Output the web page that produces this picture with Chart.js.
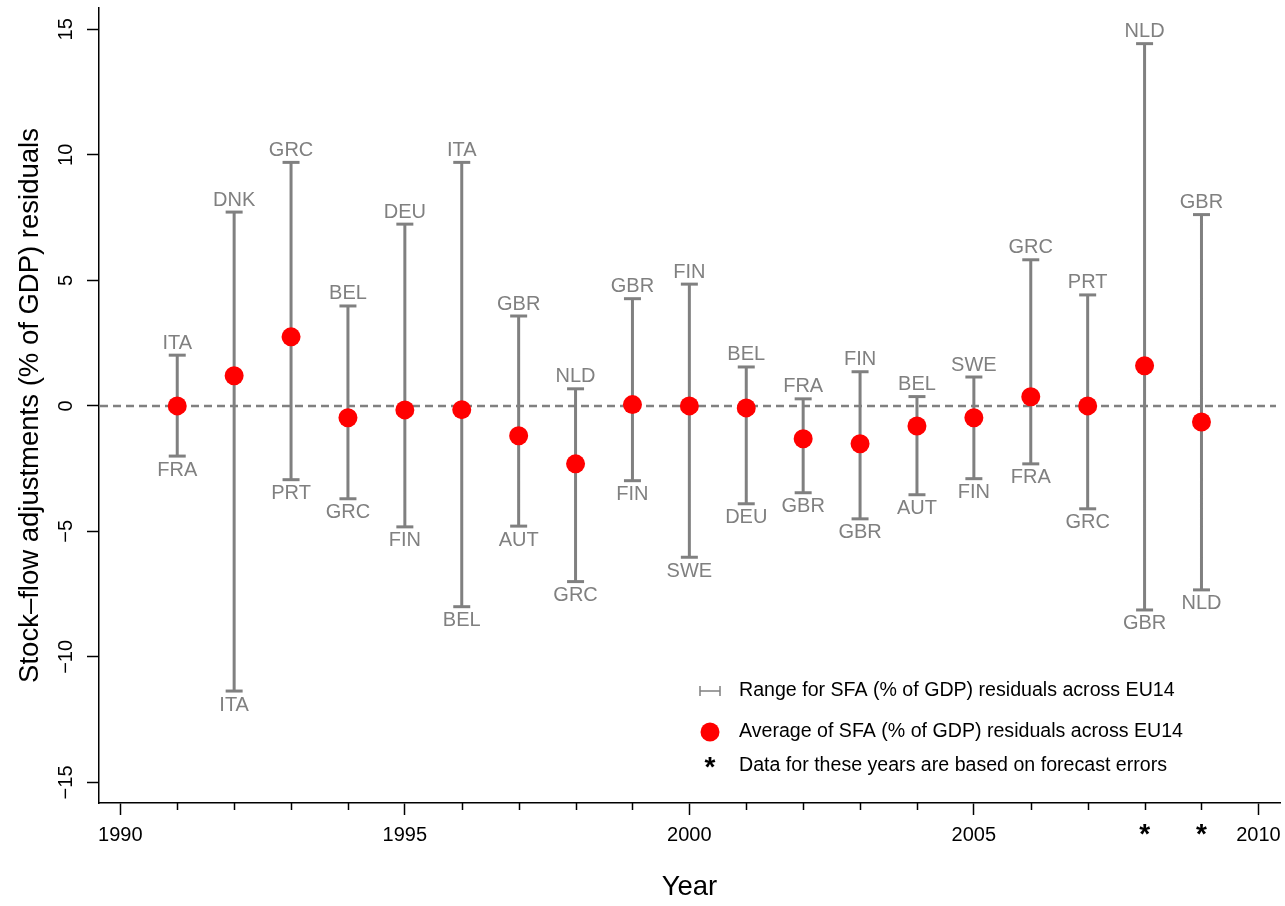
<!DOCTYPE html>
<html>
<head>
<meta charset="utf-8">
<script src="https://cdn.jsdelivr.net/npm/chart.js@4.4.1/dist/chart.umd.min.js"></script>
<style>
  html, body { margin: 0; padding: 0; background: #fff; }
  canvas { display: block; }
</style>
</head>
<body>
<canvas id="chart-sfa" width="1285" height="906"></canvas>
<script>
// data
var years = [1991, 1992, 1993, 1994, 1995, 1996, 1997, 1998, 1999, 2000,
             2001, 2002, 2003, 2004, 2005, 2006, 2007, 2008, 2009];
var averages = [0.0, 1.2, 2.75, -0.47, -0.16, -0.15, -1.19, -2.31, 0.05, 0.0,
                -0.08, -1.31, -1.51, -0.8, -0.47, 0.36, 0.0, 1.6, -0.64];
var highs = [2.02, 7.72, 9.7, 3.98, 7.24, 9.7, 3.58, 0.68, 4.27, 4.85,
             1.55, 0.28, 1.36, 0.37, 1.15, 5.82, 4.42, 14.43, 7.62];
var highCountries = ['ITA', 'DNK', 'GRC', 'BEL', 'DEU', 'ITA', 'GBR', 'NLD', 'GBR', 'FIN',
                     'BEL', 'FRA', 'FIN', 'BEL', 'SWE', 'GRC', 'PRT', 'NLD', 'GBR'];
var lows = [-2.0, -11.36, -2.94, -3.7, -4.82, -8.0, -4.79, -7.0, -2.98, -6.03,
            -3.9, -3.46, -4.5, -3.54, -2.9, -2.31, -4.1, -8.13, -7.33];
var lowCountries = ['FRA', 'ITA', 'PRT', 'GRC', 'FIN', 'BEL', 'AUT', 'GRC', 'FIN', 'SWE',
                    'DEU', 'GBR', 'GBR', 'AUT', 'FIN', 'FRA', 'GRC', 'GBR', 'NLD'];
var forecastYears = [2008, 2009];
var yTicks = [-15, -10, -5, 0, 5, 10, 15];
var legendLabels = [
    'Range for SFA (% of GDP) residuals across EU14',
    'Average of SFA (% of GDP) residuals across EU14',
    'Data for these years are based on forecast errors'
];

var FONT = '"Liberation Sans", Arial, Helvetica, sans-serif';
var GREY = '#808080';
var RED = '#ff0000';

// build the datasets
var rangePts = [];
var capPts = [];
var avgPts = [];
for (let i = 0; i < years.length; i++) {
    rangePts.push({x: years[i], y: lows[i]});
    rangePts.push({x: years[i], y: highs[i]});
    rangePts.push({x: years[i], y: null});
    capPts.push({x: years[i], y: lows[i]});
    capPts.push({x: years[i], y: highs[i]});
    avgPts.push({x: years[i], y: averages[i]});
}

var extras = {
    id: 'extras',
    beforeDatasetsDraw: function (chart) {
        var ctx = chart.ctx, a = chart.chartArea;
        var y0 = chart.scales.y.getPixelForValue(0);
        ctx.save();
        ctx.strokeStyle = GREY;
        ctx.lineWidth = 2.5;
        ctx.setLineDash([8, 5]);
        ctx.beginPath();
        ctx.moveTo(a.left + 1, y0);
        ctx.lineTo(a.right - 4, y0);
        ctx.stroke();
        ctx.restore();
    },
    afterDraw: function (chart) {
        var ctx = chart.ctx, a = chart.chartArea;
        var xs = chart.scales.x, ys = chart.scales.y;
        ctx.save();

        // country names
        ctx.fillStyle = GREY;
        ctx.font = '20px ' + FONT;
        ctx.textAlign = 'center';
        for (let i = 0; i < years.length; i++) {
            var px = xs.getPixelForValue(years[i]);
            ctx.textBaseline = 'bottom';
            ctx.fillText(highCountries[i], px, ys.getPixelForValue(highs[i]) - 2);
            ctx.textBaseline = 'top';
            ctx.fillText(lowCountries[i], px, ys.getPixelForValue(lows[i]) + 4);
        }

        // minor x ticks
        ctx.strokeStyle = '#000';
        ctx.lineWidth = 1.5;
        for (let yr = 1990; yr <= 2010; yr++) {
            if (yr % 5 === 0) continue;
            var tx = Math.round(xs.getPixelForValue(yr)) + 0.5;
            ctx.beginPath();
            ctx.moveTo(tx, a.bottom);
            ctx.lineTo(tx, a.bottom + 7);
            ctx.stroke();
        }

        // y tick labels, turned like in R
        ctx.fillStyle = '#000';
        ctx.font = '20px ' + FONT;
        ctx.textAlign = 'center';
        ctx.textBaseline = 'middle';
        yTicks.forEach(function (v) {
            ctx.save();
            ctx.translate(66, ys.getPixelForValue(v));
            ctx.rotate(-Math.PI / 2);
            ctx.fillText(String(v).replace('-', '\u2212'), 0, 0);
            ctx.restore();
        });

        // axis titles
        ctx.font = '27.5px ' + FONT;
        ctx.save();
        ctx.translate(30, (a.top + a.bottom) / 2);
        ctx.rotate(-Math.PI / 2);
        ctx.fillText('Stock\u2013flow adjustments (% of GDP) residuals', 0, 0);
        ctx.restore();
        ctx.fillText('Year', (a.left + a.right) / 2, 887);

        // legend
        var lx = 710, tx0 = 739, rows = [691, 732, 766];
        ctx.strokeStyle = GREY;
        ctx.lineWidth = 1.5;
        ctx.beginPath();
        ctx.moveTo(700, rows[0]); ctx.lineTo(720, rows[0]);
        ctx.moveTo(700, rows[0] - 5); ctx.lineTo(700, rows[0] + 5);
        ctx.moveTo(720, rows[0] - 5); ctx.lineTo(720, rows[0] + 5);
        ctx.stroke();
        ctx.fillStyle = RED;
        ctx.beginPath();
        ctx.arc(lx, rows[1], 9.5, 0, Math.PI * 2);
        ctx.fill();
        ctx.fillStyle = '#000';
        ctx.font = 'bold 28px ' + FONT;
        ctx.textAlign = 'center';
        ctx.fillText('*', lx, rows[2] + 2);
        ctx.font = '19.6px ' + FONT;
        ctx.textAlign = 'left';
        for (let i = 0; i < legendLabels.length; i++) {
            ctx.fillText(legendLabels[i], tx0, rows[i]);
        }
        ctx.restore();
    }
};

var ctx = document.getElementById('chart-sfa').getContext('2d');
var chartSfa = new Chart(ctx, {
    type: 'scatter',
    data: {
        datasets: [{
            label: 'Average',
            data: avgPts,
            backgroundColor: RED,
            borderWidth: 0,
            pointRadius: 9.5
        }, {
            label: 'Caps',
            data: capPts,
            pointStyle: 'line',
            pointRadius: 8.5,
            borderColor: GREY,
            pointBorderWidth: 3
        }, {
            type: 'line',
            label: 'Range',
            data: rangePts,
            borderColor: GREY,
            borderWidth: 3,
            pointRadius: 0,
            spanGaps: false
        }]
    },
    options: {
        responsive: false,
        devicePixelRatio: 1,
        animation: false,
        events: [],
        layout: {autoPadding: false, padding: {top: 8, right: 5, left: 0, bottom: 0}},
        plugins: {legend: {display: false}, tooltip: {enabled: false}},
        scales: {
            x: {
                type: 'linear',
                min: 1989.625,
                max: 2010.38,
                afterBuildTicks: function (s) {
                    var t = [];
                    for (let yr = 1990; yr <= 2010; yr++) t.push({value: yr});
                    s.ticks = t;
                },
                afterFit: function (s) {
                    s.height = 103;
                    s.paddingLeft = 0;
                    s.paddingRight = 0;
                },
                border: {display: true, color: '#000', width: 1.5},
                grid: {
                    drawOnChartArea: false,
                    tickLength: 12,
                    tickWidth: 1.5,
                    tickColor: function (c) {
                        return c.tick && c.tick.value % 5 === 0 ? '#000' : 'rgba(0,0,0,0)';
                    }
                },
                ticks: {
                    autoSkip: false,
                    maxRotation: 0,
                    padding: 8,
                    color: '#000',
                    font: function (c) {
                        if (c.tick && forecastYears.indexOf(c.tick.value) >= 0) {
                            return {family: FONT, size: 28, weight: 'bold', lineHeight: 0.9};
                        }
                        return {family: FONT, size: 20};
                    },
                    callback: function (v) {
                        if (forecastYears.indexOf(v) >= 0) return '*';
                        return v % 5 === 0 ? String(v) : '';
                    }
                }
            },
            y: {
                min: -15.82,
                max: 15.85,
                afterBuildTicks: function (s) {
                    s.ticks = yTicks.map(function (v) { return {value: v}; });
                },
                afterFit: function (s) {
                    s.width = 99;
                    s.paddingTop = 0;
                    s.paddingBottom = 0;
                },
                border: {display: true, color: '#000', width: 1.5},
                grid: {drawOnChartArea: false, tickLength: 12, tickWidth: 1.5, tickColor: '#000'},
                ticks: {callback: function () { return ''; }}
            }
        }
    },
    plugins: [extras]
});
</script>
</body>
</html>
